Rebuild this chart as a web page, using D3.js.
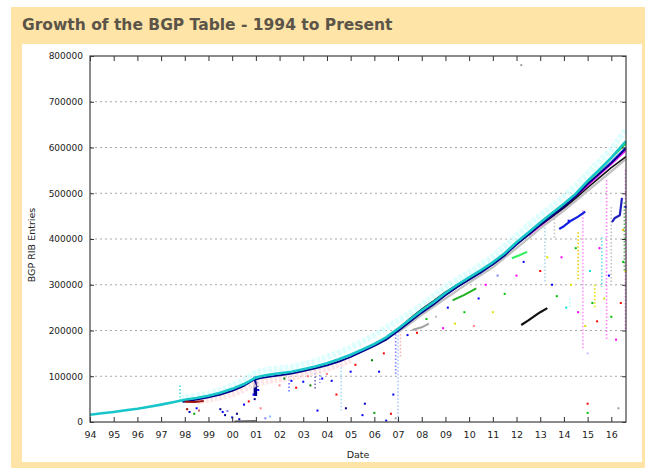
<!DOCTYPE html>
<html>
<head>
<meta charset="utf-8">
<script src="https://cdn.jsdelivr.net/npm/d3@7"></script>
<style>
  html, body { margin: 0; padding: 0; background: #ffffff; }
  svg { display: block; }
</style>
</head>
<body>
<script>
// ---- Data -------------------------------------------------------------
const chartTitle = "Growth of the BGP Table - 1994 to Present";
const xTickYears = d3.range(1994, 2017);
const xTickLabels = ["94","95","96","97","98","99","00","01","02","03","04","05","06","07","08","09","10","11","12","13","14","15","16"];
const yTickValues = [0, 100000, 200000, 300000, 400000, 500000, 600000, 700000, 800000];

// Light cyan spread of peers sitting above the main trend
const cyanHaze = [[1997.8,52000],[1998.5,57000],[1999.0,62000],[1999.5,70000],[2000.0,80000],[2000.5,92000],[2001.0,108000],[2001.5,115000],[2002.0,117000],[2002.5,120000],[2003.0,126000],[2003.5,133000],[2004.0,142000],[2004.5,152000],[2005.0,163000],[2005.5,176000],[2006.0,190000],[2006.5,206000],[2007.0,222000],[2007.5,238000],[2008.0,256000],[2008.5,275000],[2009.0,295000],[2009.5,312000],[2010.0,327000],[2010.5,344000],[2011.0,362000],[2011.5,384000],[2012.0,408000],[2012.5,430000],[2013.0,452000],[2013.5,472000],[2014.0,493000],[2014.5,516000],[2015.0,544000],[2015.5,570000],[2016.0,596000],[2016.62,640000]];

// Light pink spread below the trend, 1998-2005
const pinkHaze = [[1998.5,46000],[1999.0,50000],[1999.5,55000],[2000.0,62000],[2000.5,72000],[2001.0,85000],[2001.5,90000],[2002.0,94000],[2002.5,98000],[2003.0,104000],[2003.5,110000],[2004.0,117000],[2004.5,126000],[2005.0,136000]];

const cyanMain = [[1994.0,16000],[1994.5,19000],[1995.0,22000],[1995.5,25500],[1996.0,29000],[1996.5,33500],[1997.0,38000],[1997.5,43000],[1998.0,48500],[1998.5,52500],[1999.0,57500],[1999.5,64000],[2000.0,72500],[2000.5,83000],[2001.0,97000],[2001.3,101000],[2001.6,103500],[2002.0,106500],[2002.5,110000],[2003.0,115500],[2003.5,121500],[2004.0,128500],[2004.5,137000],[2005.0,147000],[2005.5,158500],[2006.0,170500],[2006.5,185000],[2007.0,204000],[2007.5,224000],[2008.0,244000],[2008.5,262000],[2009.0,282000],[2009.5,300000],[2010.0,316000],[2010.5,332000],[2011.0,349000],[2011.5,369000],[2012.0,393000],[2012.5,414000],[2013.0,436000],[2013.5,457000],[2014.0,477000],[2014.5,499000],[2015.0,527000],[2015.5,552000],[2016.0,578000],[2016.62,614000]];

const navyPeer = [[1997.9,44000],[1998.5,49000],[1999.0,54000],[1999.5,60000],[2000.0,68000],[2000.5,79000],[2000.9,92000],[2001.2,96000],[2001.6,99000],[2002.0,102000],[2002.5,106000],[2003.0,111000],[2003.5,117000],[2004.0,124000],[2004.5,132000],[2005.0,142000],[2005.5,154000],[2006.0,166000],[2006.5,180000],[2007.0,199000],[2007.5,219000],[2008.0,239000],[2008.5,257000],[2009.0,277000],[2009.5,295000],[2010.0,311000],[2010.5,327000],[2011.0,344000],[2011.5,364000],[2012.0,388000],[2012.5,409000],[2013.0,431000],[2013.5,451000],[2014.0,471000],[2014.5,494000],[2015.0,520000],[2015.5,543000],[2016.0,566000],[2016.62,598000]];

const grayPeer = [[2007.0,196000],[2008.0,234000],[2009.0,270000],[2010.0,305000],[2011.0,338000],[2012.0,380000],[2013.0,423000],[2014.0,462000],[2015.0,505000],[2016.0,548000],[2016.62,575000]];

const bluePeer = [[2005.0,143000],[2006.0,167000],[2007.0,200000],[2008.0,240000],[2009.0,278000],[2010.0,312000],[2011.0,345000],[2012.0,389000],[2013.0,432000],[2014.0,472000],[2015.0,520000],[2016.0,569000],[2016.62,601000]];

const blackPeer = [[2006.0,168000],[2006.5,183000],[2007.0,203000],[2007.5,226000],[2008.0,247000],[2008.5,265000],[2009.0,284000],[2009.5,300000],[2010.0,314000],[2010.5,330000],[2011.0,346000],[2011.5,365000],[2012.0,389000],[2012.5,409000],[2013.0,430000],[2013.5,449000],[2014.0,468000],[2014.5,489000],[2015.0,512000],[2015.5,534000],[2016.0,556000],[2016.62,580000]];

const magentaPeer = [[2012.5,408000],[2013.0,429000],[2013.5,449000],[2014.0,469000],[2014.5,492000],[2015.0,517000],[2015.5,541000],[2016.0,564000],[2016.62,594000]];

const greenPeer = [[2007.3,214000],[2008.0,243000],[2008.5,261000],[2009.0,280000],[2009.5,298000],[2010.0,314000],[2010.5,331000],[2011.0,347000],[2011.5,367000],[2012.0,391000],[2012.5,412000],[2013.0,434000],[2013.5,455000],[2014.0,475000],[2014.5,498000],[2015.0,525000],[2015.5,550000],[2016.0,577000],[2016.62,609000]];

// Short-lived peers
const darkRedRun = [[1998.0,44000],[1998.4,43500],[1998.8,46000]];
const zeroRun = [[2000.1,1500],[2000.6,2000],[2001.0,2500]];
const grayRun = [[2007.6,201000],[2008.0,207000],[2008.3,215000]];
const greenRunA = [[2009.3,266000],[2009.8,278000],[2010.3,292000]];
const greenRunB = [[2011.8,358000],[2012.1,364000],[2012.45,372000]];
const blackRun = [[2012.2,212000],[2012.5,222000],[2012.8,233000],[2013.0,240000],[2013.3,249000]];
const blueRunA = [[2013.8,422000],[2014.0,428000],[2014.3,440000],[2014.6,449000],[2014.9,460000]];
const blueRunB = [[2016.03,437000],[2016.15,446000],[2016.36,452000],[2016.45,490000]];

// Vertical drop-outs: [year, top, bottom, colour, width]
const drops = [
  [1997.8, 80000, 48000, "#40dede", 1.6],
  [2000.98, 100000, 57000, "#00008a", 3.5],
  [2001.08, 95000, 70000, "#1a1aa0", 1.6],
  [2002.4, 108000, 65000, "#7070ff", 1.6],
  [2003.5, 115000, 70000, "#7070c0", 1.6],
  [2003.7, 118000, 85000, "#9090ff", 1.6],
  [2004.6, 135000, 25000, "#a8dcf8", 1.6],
  [2006.9, 200000, 100000, "#8080ff", 1.6],
  [2007.0, 205000, 2000, "#a8c8ff", 1.6],
  [2007.1, 200000, 140000, "#ffb0b0", 1.6],
  [2013.2, 425000, 305000, "#b0d8e8", 1.6],
  [2013.6, 452000, 400000, "#c0c0c0", 1.6],
  [2014.25, 270000, 250000, "#b0ffff", 1.6],
  [2014.6, 415000, 311000, "#e8d000", 1.6],
  [2014.8, 463000, 157000, "#ff90ff", 1.6],
  [2015.3, 300000, 250000, "#e8e000", 1.6],
  [2015.6, 404000, 295000, "#60e0e0", 1.6],
  [2015.8, 529000, 179000, "#ff80ff", 1.6],
  [2016.0, 470000, 300000, "#c0c0c0", 1.6],
  [2016.6, 551000, 200000, "#ff70ff", 1.6],
  [2016.55, 480000, 330000, "#60c060", 1.6]
];

// Scattered single samples: [year, value, colour]
const strays = [
  [1998.1,28000,"#a00000"],[1998.2,22000,"#0000c0"],[1998.4,18000,"#00a000"],[1998.5,30000,"#0000ff"],[1998.6,25000,"#c06060"],
  [1999.5,28000,"#000080"],[1999.6,22000,"#0000ff"],[1999.7,15000,"#0000a0"],[1999.8,24000,"#8080ff"],[2000.0,10000,"#0000ff"],
  [2000.2,18000,"#000080"],[2000.3,6000,"#0000c0"],[2000.5,38000,"#0000ff"],[2000.7,45000,"#ff0000"],[2000.9,60000,"#0000ff"],
  [2000.95,50000,"#000080"],[2001.1,70000,"#0000ff"],[2001.2,30000,"#ff8080"],[2001.4,8000,"#8080ff"],[2001.6,12000,"#80c0ff"],
  [2002.0,80000,"#ff8080"],[2002.2,95000,"#008000"],[2002.5,90000,"#0000ff"],[2002.7,75000,"#ff0000"],[2003.0,88000,"#0000ff"],
  [2003.2,100000,"#ff8080"],[2003.3,80000,"#008000"],[2003.6,25000,"#0000ff"],[2003.8,95000,"#0000ff"],[2004.0,105000,"#ff8080"],
  [2004.2,90000,"#0000ff"],[2004.4,60000,"#ff0000"],[2004.8,30000,"#000080"],[2005.0,110000,"#0000ff"],[2005.2,125000,"#ff0000"],
  [2005.5,15000,"#0000ff"],[2005.6,40000,"#0000c0"],[2005.9,135000,"#008000"],[2006.0,20000,"#00a000"],[2006.2,110000,"#0000ff"],
  [2006.4,150000,"#ff0000"],[2006.5,3000,"#0000ff"],[2006.7,18000,"#ff0000"],[2006.8,60000,"#0000ff"],[2006.9,8000,"#a0a0a0"],
  [2007.4,190000,"#0000ff"],[2007.8,195000,"#ff0000"],[2008.2,225000,"#00c000"],[2008.6,230000,"#c0c0c0"],[2008.9,205000,"#ff00ff"],
  [2009.1,250000,"#0000ff"],[2009.4,215000,"#e0e000"],[2009.8,240000,"#00c000"],[2010.2,210000,"#ff8080"],[2010.4,270000,"#0000ff"],
  [2010.7,300000,"#ff00ff"],[2011.0,240000,"#e0e000"],[2011.2,320000,"#8080ff"],[2011.5,280000,"#00c000"],[2012.0,320000,"#ff00ff"],
  [2012.3,350000,"#0000ff"],[2012.2,780000,"#a0a0a0"],[2013.0,330000,"#ff0000"],[2013.3,360000,"#e0e000"],[2013.5,300000,"#0000ff"],
  [2013.7,275000,"#00c000"],[2013.9,360000,"#ff00ff"],[2014.1,250000,"#00e0e0"],[2014.3,300000,"#e0e000"],[2014.5,380000,"#00c000"],
  [2014.6,240000,"#ff00ff"],[2014.9,210000,"#e0e000"],[2015.0,150000,"#c0c0ff"],[2015.1,330000,"#00e0e0"],[2015.2,260000,"#00c000"],
  [2015.4,220000,"#ff0000"],[2015.5,380000,"#ff00ff"],[2015.7,270000,"#e0e000"],[2015.9,320000,"#0000ff"],[2016.0,230000,"#00c000"],
  [2016.2,180000,"#ff00ff"],[2016.4,260000,"#ff0000"],[2016.5,350000,"#00c000"],[2016.6,330000,"#e0e000"],[2016.3,30000,"#a0a0a0"],
  [2015.0,40000,"#ff0000"],[2015.0,20000,"#00c000"],[2014.2,440000,"#0000ff"],[2016.6,470000,"#0000ff"],[2016.5,420000,"#e0c000"]
];

// ---- Layout -----------------------------------------------------------
const W = 645, H = 468;
const svg = d3.select("body").append("svg").attr("width", W).attr("height", H);

svg.append("rect").attr("x", 11).attr("y", 7).attr("width", W - 11).attr("height", H - 7).attr("fill", "#fee4a6");
svg.append("rect").attr("x", 22).attr("y", 44).attr("width", 620).attr("height", 418).attr("fill", "#ffffff");

svg.append("text")
  .attr("x", 22).attr("y", 30)
  .attr("font-family", "DejaVu Sans, Verdana, sans-serif")
  .attr("font-weight", "bold").attr("font-size", 15.5)
  .attr("fill", "#5b5549")
  .text(chartTitle);

const plot = { left: 90, right: 626, top: 56, bottom: 422 };
const x = d3.scaleLinear().domain([1994, 2016.62]).range([plot.left, plot.right]);
const y = d3.scaleLinear().domain([0, 800000]).range([plot.bottom, plot.top]);

// Dotted horizontal grid
svg.append("g").selectAll("line")
  .data(yTickValues.filter(v => v > 0 && v < 800000))
  .join("line")
  .attr("x1", plot.left).attr("x2", plot.right)
  .attr("y1", d => y(d)).attr("y2", d => y(d))
  .attr("stroke", "#a8a8a8").attr("stroke-width", 1).attr("stroke-dasharray", "2,3");

const line = d3.line().x(d => x(d[0])).y(d => y(d[1]));
const data = svg.append("g");

function trace(pts, colour, width, opacity = 1, dash = null) {
  data.append("path").datum(pts).attr("d", line)
    .attr("fill", "none").attr("stroke", colour)
    .attr("stroke-width", width).attr("stroke-opacity", opacity)
    .attr("stroke-dasharray", dash)
    .attr("stroke-linejoin", "round");
}

// Drop-out columns drawn first so the peer traces sit over them
data.selectAll("line.drop").data(drops).join("line").attr("class", "drop")
  .attr("x1", d => x(d[0])).attr("x2", d => x(d[0]))
  .attr("y1", d => y(d[1])).attr("y2", d => y(d[2]))
  .attr("stroke", d => d[3]).attr("stroke-width", d => d[4])
  .attr("stroke-dasharray", d => d[4] > 2 ? null : "1.5,2");

trace(pinkHaze, "#ffe0e0", 7, 0.8, "3,1.5");
trace(cyanHaze, "#d4ffff", 6, 0.75, "4,1.5");
trace(grayPeer, "#c0c0c0", 2.2);
trace(bluePeer, "#2040ff", 1.4);
trace(magentaPeer, "#ff20ff", 2);
trace(blackPeer, "#101010", 1.5);
trace(greenPeer, "#10d010", 1.8);
trace(navyPeer, "#000088", 1.8);
trace(cyanMain, "#18c6ca", 2.6);

trace(darkRedRun, "#a01010", 2);
trace(zeroRun, "#606060", 1.5);
trace(grayRun, "#a0a0a0", 2);
trace(greenRunA, "#20b020", 2);
trace(greenRunB, "#30f060", 2);
trace(blackRun, "#101010", 2.2);
trace(blueRunA, "#1020e0", 2.2);
trace(blueRunB, "#2020c0", 2.2);

data.selectAll("rect.stray").data(strays).join("rect").attr("class", "stray")
  .attr("x", d => x(d[0]) - 1).attr("y", d => y(d[1]) - 1)
  .attr("width", 2).attr("height", 2).attr("fill", d => d[2]);

// ---- Axes -------------------------------------------------------------
const tickStroke = "#303030";
function styleAxis(g) {
  g.select(".domain").remove();
  g.selectAll(".tick line").attr("stroke", tickStroke);
  g.selectAll(".tick text").attr("fill", "#222").attr("font-family", "DejaVu Sans, Verdana, sans-serif");
}

svg.append("g").attr("transform", `translate(0,${plot.bottom})`)
  .call(d3.axisBottom(x).tickValues(xTickYears).tickFormat((d, i) => xTickLabels[i])
    .tickSizeInner(-5).tickSizeOuter(0).tickPadding(9))
  .call(styleAxis)
  .call(g => g.selectAll(".tick text").attr("font-size", 9.5));

svg.append("g").attr("transform", `translate(0,${plot.top})`)
  .call(d3.axisTop(x).tickValues(xTickYears).tickFormat("").tickSizeInner(-5).tickSizeOuter(0))
  .call(styleAxis);

svg.append("g").attr("transform", `translate(${plot.left},0)`)
  .call(d3.axisLeft(y).tickValues(yTickValues).tickFormat(d3.format("d"))
    .tickSizeInner(-4).tickSizeOuter(0).tickPadding(7))
  .call(styleAxis)
  .call(g => g.selectAll(".tick text").attr("font-size", 9));

svg.append("g").attr("transform", `translate(${plot.right},0)`)
  .call(d3.axisRight(y).tickValues(yTickValues).tickFormat("").tickSizeInner(-4).tickSizeOuter(0))
  .call(styleAxis);

// Plot frame
svg.append("rect")
  .attr("x", plot.left).attr("y", plot.top)
  .attr("width", plot.right - plot.left).attr("height", plot.bottom - plot.top)
  .attr("fill", "none").attr("stroke", "#404040").attr("stroke-width", 1.2);

// Axis titles
svg.append("text")
  .attr("x", (plot.left + plot.right) / 2).attr("y", 458)
  .attr("text-anchor", "middle")
  .attr("font-family", "DejaVu Sans, Verdana, sans-serif").attr("font-size", 9.5)
  .attr("fill", "#222").text("Date");

svg.append("text")
  .attr("transform", "translate(35,245) rotate(-90)")
  .attr("text-anchor", "middle")
  .attr("font-family", "DejaVu Sans, Verdana, sans-serif").attr("font-size", 9.5)
  .attr("fill", "#222").text("BGP RIB Entries");
</script>
</body>
</html>
